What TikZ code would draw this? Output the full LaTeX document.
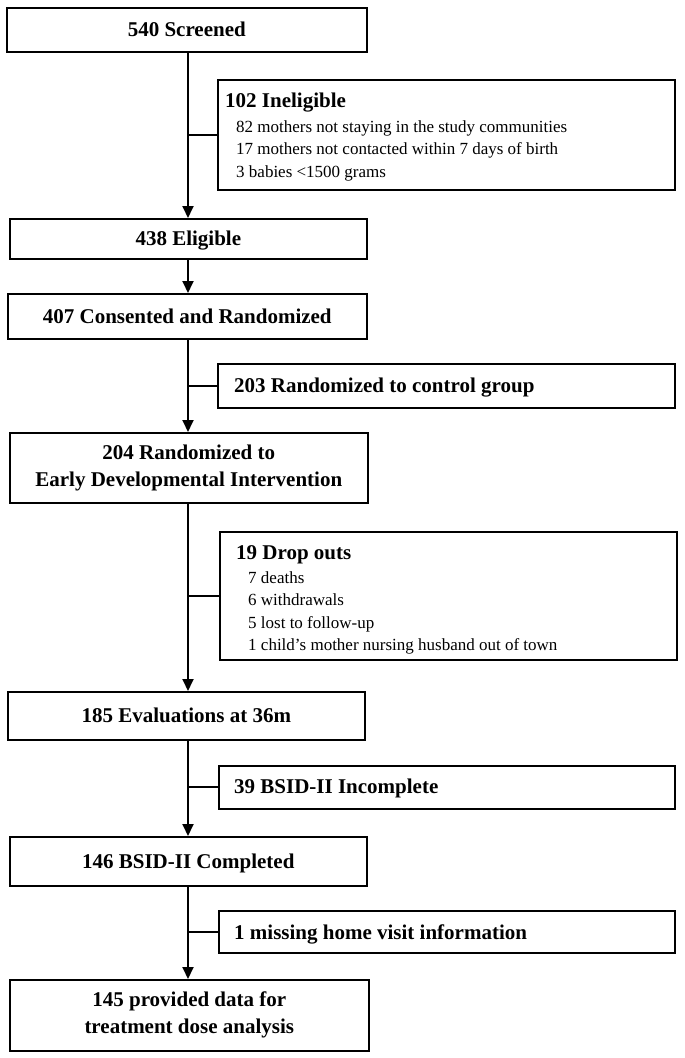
\documentclass[tikz,border=0pt]{standalone}
\usepackage{fontspec}
\setmainfont{Liberation Serif}
\usetikzlibrary{arrows.meta}
\begin{document}
\begin{tikzpicture}[x=1pt,y=-1pt,
  box/.style={draw,line width=1.6pt,inner sep=0pt,anchor=north west,
    font=\fontsize{21}{27}\selectfont\bfseries,align=center,
    text height=13.5pt,text depth=0pt},
  box2/.style={draw,line width=1.6pt,inner sep=0pt,anchor=north west,
    font=\fontsize{21}{27}\selectfont\bfseries,align=center},
  side/.style={draw,line width=1.6pt,inner sep=0pt,anchor=north west},
  hdr/.style={anchor=base west,inner sep=0pt,font=\fontsize{21}{27}\selectfont\bfseries},
  itm/.style={anchor=base west,inner sep=0pt,font=\fontsize{17}{22}\selectfont},
  conn/.style={line width=1.8pt},
  arr/.style={line width=1.8pt,-{Triangle[width=11pt,length=12pt]}}
]
\useasboundingbox (0,0) rectangle (685,1058);
\coordinate (t) at (188,0);

% main column
\node[box,minimum width=360pt,minimum height=44pt] (scr) at (6,7) {540 Screened};
\node[box,minimum width=357pt,minimum height=40pt] (elig) at (9,218) {438 Eligible};
\node[box,minimum width=359pt,minimum height=45pt] (cons) at (7,293) {407 Consented and Randomized};
\node[box2,minimum width=358pt,minimum height=70pt] (edi) at (9,432) {204 Randomized to\\Early Developmental Intervention};
\node[box,minimum width=357pt,minimum height=48pt] (eval) at (7,691) {185 Evaluations at 36m};
\node[box,minimum width=357pt,minimum height=49pt] (comp) at (9,836) {146 BSID-II Completed};
\node[box2,minimum width=359pt,minimum height=71pt] (final) at (9,979) {145 provided data for\\treatment dose analysis};

% side boxes
\node[side,minimum width=457pt,minimum height=110pt] (inel) at (217,79) {};
\node[hdr] (inelh) at (225,107) {102 Ineligible};
\node[itm] (inel1) at (236,132) {82 mothers not staying in the study communities};
\node[itm] (inel2) at (236,154.5) {17 mothers not contacted within 7 days of birth};
\node[itm] (inel3) at (236,177) {3 babies <1500 grams};

\node[side,minimum width=457pt,minimum height=44pt] (ctrl) at (217,363) {};
\node[hdr] (ctrlh) at (234,392) {203 Randomized to control group};

\node[side,minimum width=457pt,minimum height=128pt] (drop) at (219,531) {};
\node[hdr] (droph) at (236,559) {19 Drop outs};
\node[itm] (drop1) at (248,583) {7 deaths};
\node[itm] (drop2) at (248,605.5) {6 withdrawals};
\node[itm] (drop3) at (248,628) {5 lost to follow-up};
\node[itm] (drop4) at (248,650.5) {1 child’s mother nursing husband out of town};

\node[side,minimum width=456pt,minimum height=43pt] (inc) at (218,765) {};
\node[hdr] (inch) at (234,793) {39 BSID-II Incomplete};

\node[side,minimum width=456pt,minimum height=42pt] (miss) at (218,910) {};
\node[hdr] (missh) at (234,939) {1 missing home visit information};

% connectors
\draw[arr] (scr.south -| t) -- (elig.north -| t);
\draw[conn] (inel.west -| t) -- (inel.west);
\draw[arr] (elig.south -| t) -- (cons.north -| t);
\draw[arr] (cons.south -| t) -- (edi.north -| t);
\draw[conn] (ctrl.west -| t) -- (ctrl.west);
\draw[arr] (edi.south -| t) -- (eval.north -| t);
\draw[conn] (drop.west -| t) -- (drop.west);
\draw[arr] (eval.south -| t) -- (comp.north -| t);
\draw[conn] (inc.west -| t) -- (inc.west);
\draw[arr] (comp.south -| t) -- (final.north -| t);
\draw[conn] (miss.west -| t) -- (miss.west);
\end{tikzpicture}
\end{document}
